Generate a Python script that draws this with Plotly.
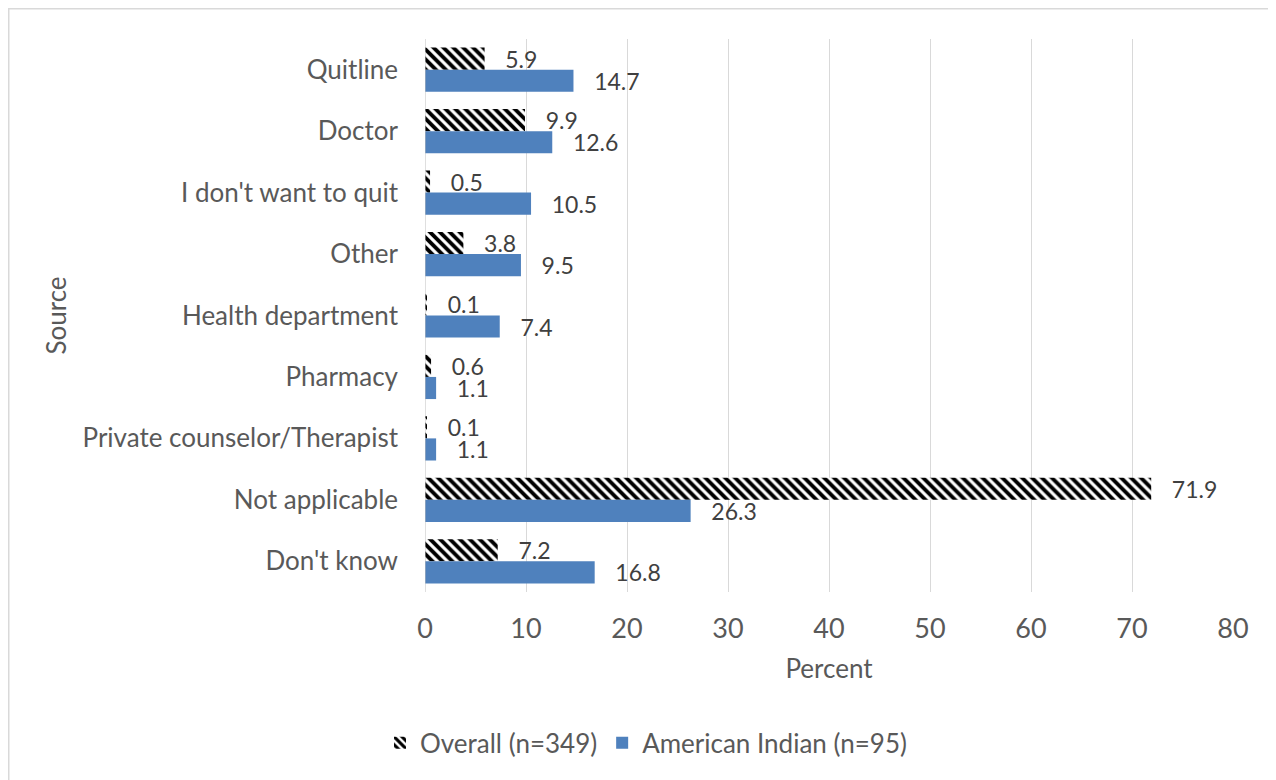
import plotly.graph_objects as go

categories = ["Quitline", "Doctor", "I don't want to quit", "Other", "Health department",
              "Pharmacy", "Private counselor/Therapist", "Not applicable", "Don't know"]
overall = [5.9, 9.9, 0.5, 3.8, 0.1, 0.6, 0.1, 71.9, 7.2]
american_indian = [14.7, 12.6, 10.5, 9.5, 7.4, 1.1, 1.1, 26.3, 16.8]
x_ticks = [0, 10, 20, 30, 40, 50, 60, 70, 80]

FONT = "Lato, Carlito, Calibri, sans-serif"
TXT = "#595959"

# page body has an 8px margin; compensate so the plot area lands where the reference has it
L, R, T, B = 417, 51, 31, 196
PW, PH = 1276 - L - R, 780 - T - B

fig = go.Figure()
fig.add_trace(go.Bar(
    y=categories, x=overall, orientation="h", name="Overall (n=349)",
    marker=dict(color="white", line=dict(width=0),
                pattern=dict(shape="\\", fgcolor="black", bgcolor="white", size=7,
                             solidity=0.55, fgopacity=1)),
    texttemplate="\u00a0\u00a0\u00a0%{x:.1f}", textposition="outside", cliponaxis=False,
    constraintext="none",
    textfont=dict(size=23, color="#404040", family=FONT),
))
fig.add_trace(go.Bar(
    y=categories, x=american_indian, orientation="h", name="American Indian (n=95)",
    marker=dict(color="#4F81BD", line=dict(width=0)),
    texttemplate="\u00a0\u00a0\u00a0%{x:.1f}", textposition="outside", cliponaxis=False,
    constraintext="none",
    textfont=dict(size=23, color="#404040", family=FONT),
))

fig.update_layout(
    width=1276, height=780,
    paper_bgcolor="white", plot_bgcolor="white",
    margin=dict(l=L, r=R, t=T, b=B, autoexpand=False),
    barmode="group", bargap=0.28, bargroupgap=0,
    font=dict(family=FONT, color=TXT, size=26),
    showlegend=True,
    legend=dict(orientation="h", xref="container", yref="container", x=0.5, xanchor="center",
                y=0.058, yanchor="middle", font=dict(size=26, color=TXT), traceorder="normal",
                itemwidth=30),
    xaxis=dict(range=[0, 80], tickvals=x_ticks, showgrid=True, gridcolor="#D9D9D9", gridwidth=1,
               zeroline=False, showline=False, tickfont=dict(size=27, color=TXT),
               ticks="", ticklabelstandoff=18,
               title=dict(text="Percent", font=dict(size=26, color=TXT), standoff=16)),
    yaxis=dict(autorange="reversed", showgrid=False, zeroline=False, showline=False,
               tickfont=dict(size=26, color=TXT), ticks="", ticklabelstandoff=26,
               title=dict(text="Source", font=dict(size=26, color=TXT), standoff=8)),
    shapes=[
        dict(type="line", xref="x", yref="paper", x0=0, x1=0, y0=0, y1=1,
             line=dict(color="#BFBFBF", width=1)),
        dict(type="rect", xref="paper", yref="paper",
             x0=(0.75 - L) / PW, x1=(1266 - L) / PW,
             y0=-0.4, y1=(PH + T - 0.75) / PH,
             line=dict(color="#D9D9D9", width=1.5), fillcolor="rgba(0,0,0,0)", layer="below"),
    ],
)

fig.write_html("out.html")
